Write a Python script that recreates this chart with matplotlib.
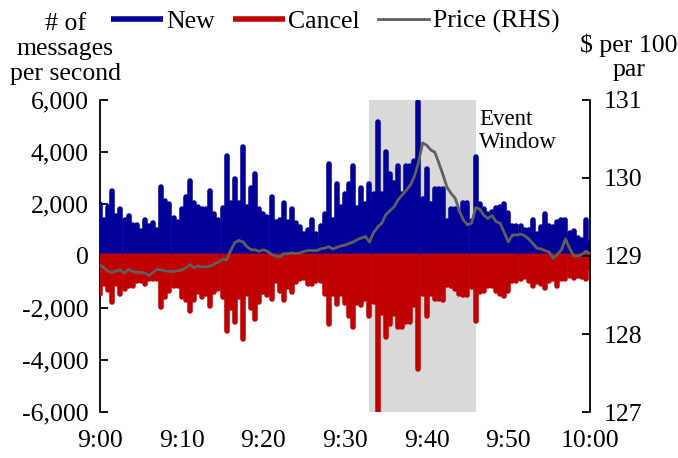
import numpy as np
import matplotlib
matplotlib.use("Agg")
import matplotlib.pyplot as plt
from matplotlib.ticker import FuncFormatter

plt.rcParams["font.family"] = ["Liberation Serif", "DejaVu Serif"]
plt.rcParams["font.size"] = 18.5

# minutes after 9:00, one reading every 30 seconds
minutes = np.arange(0, 60.5, 0.5)

new_msgs = [
    2000, 1400, 1900, 2500, 1550, 1800, 1400, 1550, 1200, 1200,
    950, 1400, 1150, 1250, 1000, 2650, 2100, 2000, 1450, 1300,
    1800, 2250, 2900, 2050, 1900, 1800, 1800, 2500, 1600, 1400,
    1850, 3850, 2050, 2950, 2050, 4200, 1900, 2600, 3150, 1800,
    1600, 1500, 2270, 1300, 1400, 2050, 1300, 1800, 1250, 1100,
    850, 1000, 1400, 850, 1150, 1600, 3540, 1400, 2770, 1900,
    2400, 2770, 3460, 1850, 2620, 2000, 2770, 2400, 5150, 2400,
    4000, 3150, 2800, 3460, 2400, 3460, 3460, 3650, 5920, 2200,
    3350, 2000, 2580, 2580, 2580, 1350, 1800, 1800, 1600, 2050,
    2050, 1350, 3810, 2000, 1800, 1600, 1700, 1850, 1890, 2000,
    1650, 1150, 1150, 1150, 1000, 1000, 1400, 850, 1100, 1600,
    1150, 1100, 1300, 1400, 1400, 900, 950, 700, 600, 1400,
    500,
]

cancel_msgs = [
    -1460, -1080, -1300, -1770, -1080, -1460, -1270, -1150, -1150, -960,
    -960, -1080, -900, -900, -900, -1960, -1580, -1350, -1150, -1150,
    -1580, -1700, -2120, -1700, -1400, -1580, -1460, -1920, -1400, -1270,
    -1580, -2890, -2000, -2540, -1580, -3190, -1460, -2000, -2420, -1770,
    -1400, -1500, -1650, -960, -1350, -1700, -1200, -1400, -1000, -900,
    -850, -1080, -1080, -960, -960, -1460, -2620, -1460, -1850, -1460,
    -1800, -2310, -2730, -1800, -1870, -1650, -2310, -1770, -6100, -2200,
    -3110, -2620, -2230, -2730, -2730, -2540, -2540, -1900, -4350, -1460,
    -2310, -1460, -1650, -1650, -1700, -1100, -1150, -1270, -1460, -1500,
    -1500, -1200, -2500, -1400, -1350, -1150, -1150, -1350, -1460, -1540,
    -1350, -960, -960, -900, -800, -960, -1150, -1000, -1080, -1230,
    -960, -900, -1150, -900, -900, -750, -850, -750, -800, -900,
    -450,
]

price = [
    128.88, 128.85, 128.80, 128.79, 128.81, 128.82, 128.78, 128.83, 128.80, 128.79,
    128.79, 128.78, 128.75, 128.79, 128.83, 128.82, 128.81, 128.80, 128.80, 128.81,
    128.82, 128.85, 128.89, 128.85, 128.87, 128.86, 128.86, 128.87, 128.90, 128.92,
    128.96, 128.95, 129.07, 129.17, 129.20, 129.18, 129.12, 129.08, 129.08, 129.06,
    129.08, 129.06, 129.02, 129.00, 128.99, 129.03, 129.03, 129.04, 129.03, 129.04,
    129.06, 129.07, 129.07, 129.07, 129.09, 129.10, 129.12, 129.09, 129.11, 129.13,
    129.14, 129.16, 129.18, 129.21, 129.23, 129.25, 129.18, 129.30, 129.37, 129.42,
    129.53, 129.58, 129.63, 129.72, 129.78, 129.84, 129.91, 130.02, 130.20, 130.45,
    130.42, 130.36, 130.33, 130.19, 130.04, 129.88, 129.80, 129.74, 129.58, 129.46,
    129.40, 129.42, 129.62, 129.60, 129.52, 129.48, 129.52, 129.44, 129.42, 129.30,
    129.18, 129.27, 129.27, 129.28, 129.26, 129.22, 129.16, 129.10, 129.09, 129.07,
    129.05, 128.97, 129.02, 129.08, 129.22, 129.10, 129.00, 129.00, 129.02, 129.06,
    129.03,
]

event_window = (33, 46)
x_ticks = [0, 10, 20, 30, 40, 50, 60]
x_labels = ["9:00", "9:10", "9:20", "9:30", "9:40", "9:50", "10:00"]

blue = "#000099"
red = "#C00000"
grey = "#5f5f5f"

fig = plt.figure(figsize=(6.78, 4.58), dpi=100)
ax = fig.add_axes([0.1475, 0.1004, 0.7227, 0.6813])

ax.axvspan(event_window[0], event_window[1], color="#d9d9d9", lw=0, zorder=0)
ax.vlines(minutes, 0, new_msgs, color=blue, lw=4.0, capstyle="round",
          zorder=3, label="New")
ax.vlines(minutes, 0, cancel_msgs, color=red, lw=4.0, capstyle="round",
          zorder=3, label="Cancel")

ax.set_xlim(0, 60)
ax.set_ylim(-6000, 6000)
ax.set_yticks(np.arange(-6000, 6001, 2000))
ax.yaxis.set_major_formatter(FuncFormatter(lambda v, p: f"{int(v):,}"))
ax.tick_params(axis="y", direction="in", length=6, width=1.3, pad=8)

for s in ["top", "right"]:
    ax.spines[s].set_visible(False)
ax.spines["left"].set_linewidth(1.3)
ax.spines["bottom"].set_position(("data", 0))
ax.spines["bottom"].set_zorder(1)
ax.set_xticks(x_ticks)
ax.tick_params(axis="x", direction="out", length=4, width=1.2, labelbottom=False)

sec = ax.secondary_xaxis(0)
sec.set_xticks(x_ticks, x_labels)
sec.tick_params(length=0, pad=13)
sec.spines["bottom"].set_visible(False)

ax2 = ax.twinx()
ax2.plot(minutes, price, color=grey, lw=2.0, label="Price (RHS)", zorder=4)
ax2.set_ylim(127, 131)
ax2.set_yticks([127, 128, 129, 130, 131])
ax2.tick_params(axis="y", direction="in", length=6, width=1.3, pad=10)
for s in ["top", "left", "bottom"]:
    ax2.spines[s].set_visible(False)
ax2.spines["right"].set_linewidth(1.3)

ax.text(46.4, 4800, "Event\nWindow", fontsize=16.5, va="center", ha="left",
        linespacing=1.1, zorder=5)

fig.text(0.096, 0.893, "# of\nmessages\nper second", ha="center", va="center",
         linespacing=1.15)
fig.text(0.928, 0.875, "$ per 100\npar", ha="center", va="center",
         linespacing=1.1)

h1, l1 = ax.get_legend_handles_labels()
h2, l2 = ax2.get_legend_handles_labels()
fig.legend(h1 + h2, l1 + l2, loc="center", bbox_to_anchor=(0.495, 0.953),
           ncol=3, frameon=False, handlelength=2.0, handletextpad=0.15,
           columnspacing=0.7, borderaxespad=0)

fig.savefig("out.png", dpi=100)
